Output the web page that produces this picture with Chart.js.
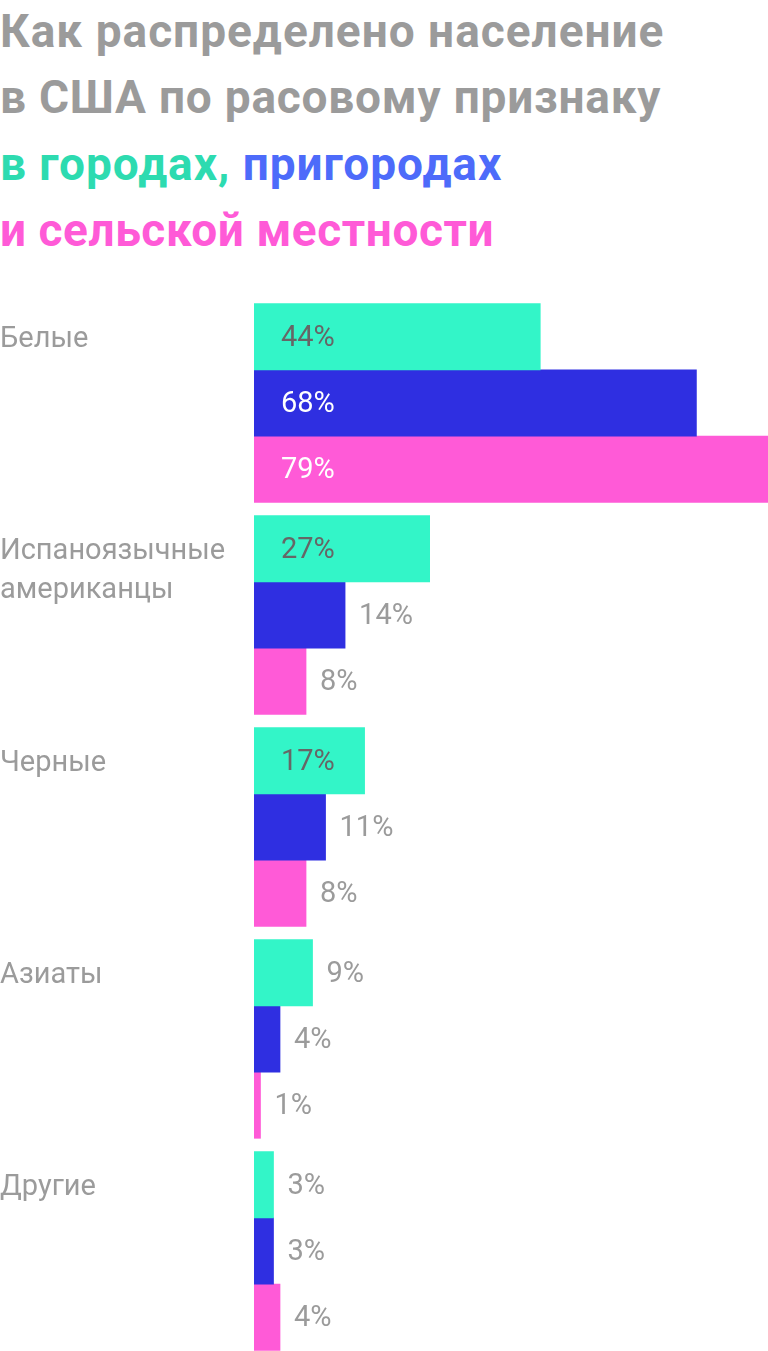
<!DOCTYPE html>
<html lang="ru">
<head>
<meta charset="utf-8">
<script src="https://cdn.jsdelivr.net/npm/chart.js@4"></script>
<style>
  html, body { margin:0; padding:0; width:768px; height:1351px; overflow:hidden; background:#fff; }
  #title { position:absolute; left:0; top:-2.4px; font-family:Roboto, "DejaVu Sans", sans-serif; font-weight:700; font-size:46px; line-height:66.6px; color:#9b9b9b; white-space:nowrap; }
  #title div { height:66.6px; }
  .l1 { letter-spacing:1.0px; }
  .l2 { letter-spacing:0.78px; }
  .l3 { letter-spacing:0.95px; }
  .l4 { letter-spacing:0.55px; }
  .c-city { color:#2ddbb0; }
  .c-sub { color:#4d6bfa; }
  .c-rural { color:#ff5ad7; }
  #wrap { position:absolute; left:0; top:297px; width:768px; height:1060px; }
</style>
</head>
<body>
<div id="title">
  <div class="l1">Как распределено население</div>
  <div class="l2">в США по расовому признаку</div>
  <div class="l3"><span class="c-city">в городах,</span> <span class="c-sub">пригородах</span></div>
  <div class="l4"><span class="c-rural">и сельской местности</span></div>
</div>
<div id="wrap"><canvas id="chart" width="768" height="1060"></canvas></div>
<script>
const categories = [['Белые'], ['Испаноязычные', 'американцы'], ['Черные'], ['Азиаты'], ['Другие']];
const seriesNames = ['В городах', 'В пригородах', 'В сельской местности'];
const cityValues = [44, 27, 17, 9, 3];
const suburbValues = [68, 14, 11, 4, 3];
const ruralValues = [79, 8, 8, 1, 4];
const barColors = ['#33f5c8', '#2f2fe1', '#ff5ad7'];
const insideLabelColors = ['#666666', '#ffffff', '#ffffff'];

const valueLabels = {
  id: 'valueLabels',
  afterDatasetsDraw(chart) {
    const ctx = chart.ctx;
    ctx.save();
    ctx.font = '400 29px Roboto, "DejaVu Sans", sans-serif';
    ctx.textBaseline = 'middle';
    ctx.textAlign = 'left';
    chart.data.datasets.forEach((ds, di) => {
      const meta = chart.getDatasetMeta(di);
      meta.data.forEach((bar, i) => {
        const v = ds.data[i];
        const txt = v + '%';
        const tw = ctx.measureText(txt).width;
        const inside = (bar.x - bar.base) > tw + 52;
        if (inside) {
          ctx.fillStyle = insideLabelColors[di];
          ctx.fillText(txt, bar.base + 27, bar.y + 2);
        } else {
          ctx.fillStyle = '#9b9b9b';
          ctx.fillText(txt, bar.x + 14, bar.y + 2);
        }
      });
    });
    ctx.restore();
  }
};

new Chart(document.getElementById('chart'), {
  type: 'bar',
  data: {
    labels: categories,
    datasets: [
      { label: seriesNames[0], data: cityValues, backgroundColor: barColors[0] },
      { label: seriesNames[1], data: suburbValues, backgroundColor: barColors[1] },
      { label: seriesNames[2], data: ruralValues, backgroundColor: barColors[2] }
    ]
  },
  options: {
    indexAxis: 'y',
    responsive: false,
    animation: false,
    devicePixelRatio: 1,
    layout: { padding: 0 },
    barThickness: 66.2,
    borderWidth: 0,
    plugins: { legend: { display: false }, tooltip: { enabled: false }, title: { display: false } },
    scales: {
      x: { display: false, min: 0, max: 79 },
      y: {
        position: 'left',
        grid: { display: false },
        border: { display: false },
        afterFit(scale) {
          scale.width = 254;
          scale.paddingTop = 0;
          scale.paddingBottom = 0;
        },
        ticks: {
          padding: 0,
          crossAlign: 'far',
          labelOffset: -43.7,
          color: '#9b9b9b',
          font: { family: 'Roboto, "DejaVu Sans", sans-serif', size: 29, weight: '400', lineHeight: 39 / 29 },
          callback(value, index) {
            const lines = categories[index].slice();
            while (lines.length < 2) lines.push('');
            return lines;
          }
        }
      }
    }
  },
  plugins: [valueLabels]
});
</script>
</body>
</html>
